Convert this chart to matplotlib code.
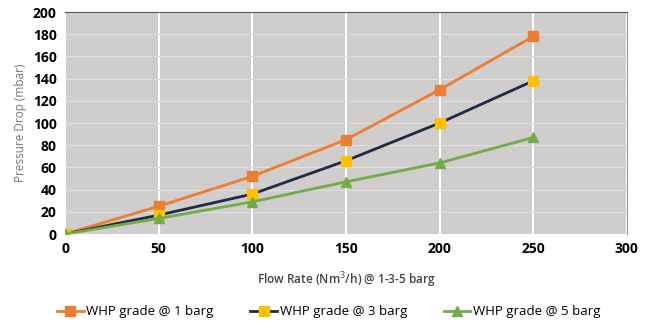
import matplotlib
matplotlib.use("Agg")
import matplotlib.pyplot as plt

plt.rcParams['font.family'] = ['Open Sans', 'DejaVu Sans']

flow = [0, 50, 100, 150, 200, 250]
bar1 = [0, 25, 52, 85, 130, 178]
bar3 = [0, 17, 36, 66, 100, 138]
bar5 = [0, 14, 29, 47, 64, 87]
labels = ["WHP grade @ 1 barg", "WHP grade @ 3 barg", "WHP grade @ 5 barg"]
xticks = [0, 50, 100, 150, 200, 250, 300]
yticks = list(range(0, 201, 20))

fig = plt.figure(figsize=(6.51, 3.25), dpi=100)
ax = fig.add_axes([0.1, 0.28, 0.863, 0.683])
ax.set_facecolor('#d0cdcd')

ax.plot(flow, bar1, color='#ed7d31', lw=2, marker='s', ms=7, mfc='#ed7d31', mec='#ed7d31', label=labels[0], zorder=3)
ax.plot(flow, bar3, color='#1f2a44', lw=2, marker='s', ms=7, mfc='#ffc000', mec='#ffc000', label=labels[1], zorder=3)
ax.plot(flow, bar5, color='#70ad47', lw=2, marker='^', ms=7, mfc='#70ad47', mec='#70ad47', label=labels[2], zorder=3)

ax.set_xlim(0, 300)
ax.set_ylim(0, 200)
ax.set_xticks(xticks)
ax.set_yticks(yticks)
ax.set_xticklabels([str(v) for v in xticks], fontweight='bold', fontsize=10)
ax.set_yticklabels([str(v) for v in yticks], fontweight='bold', fontsize=10)
ax.tick_params(length=0, pad=6)
ax.grid(axis='x', color='white', lw=1.5, zorder=1)
ax.grid(axis='y', color='#e0dede', lw=0.8, zorder=1)
ax.set_axisbelow(True)
for s in ['left', 'bottom']:
    ax.spines[s].set_visible(False)
ax.spines['top'].set_color('#555555')
ax.spines['right'].set_color('#999999')

ax.set_xlabel("Flow Rate (Nm$^3$/h) @ 1-3-5 barg", fontsize=8.5, color='#444444', fontweight='semibold', labelpad=10)
ax.set_ylabel("Pressure Drop (mbar)", fontsize=8.5, color='#777777', labelpad=4)

fig.legend(loc='center', bbox_to_anchor=(0.505, 0.04), ncol=3, frameon=False, fontsize=9.5,
           handlelength=2.0, columnspacing=2.8, handletextpad=0.2)

fig.savefig('out.png', dpi=100)
